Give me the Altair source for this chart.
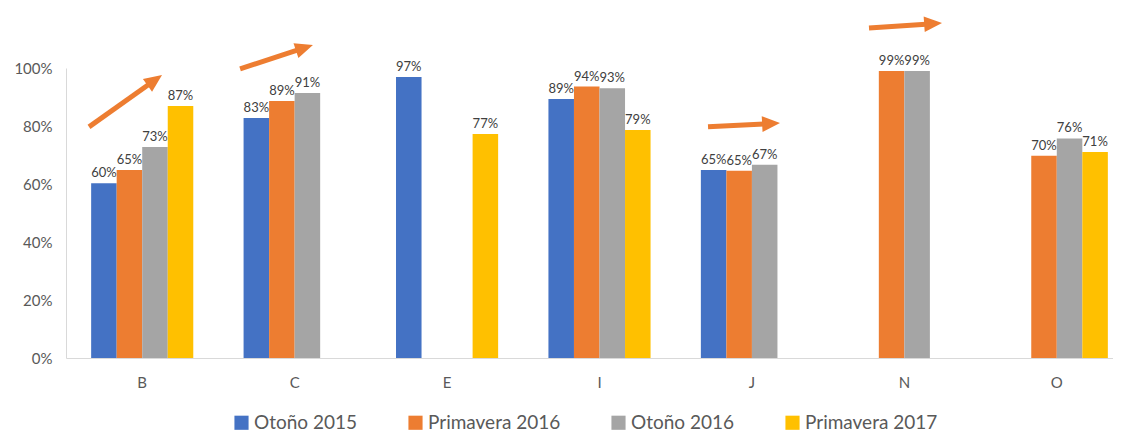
import math
import altair as alt
import pandas as pd

# ---------------- data ----------------
categories = ["B", "C", "E", "I", "J", "N", "O"]
series = ["Otoño 2015", "Primavera 2016", "Otoño 2016", "Primavera 2017"]
otono_2015 = [0.603, 0.828, 0.969, 0.893, 0.648, None, None]
primavera_2016 = [0.648, 0.886, None, 0.936, 0.646, 0.99, 0.697]
otono_2016 = [0.728, 0.914, None, 0.93, 0.666, 0.99, 0.757]
primavera_2017 = [0.869, None, 0.772, 0.786, None, None, 0.71]
colors = ["#4472C4", "#ED7D31", "#A5A5A5", "#FFC000"]
y_ticks = [0, 0.2, 0.4, 0.6, 0.8, 1.0]

# trend arrows (x in category units, y in value units)
arrow_x0 = [0.151, 1.142, 4.212, 5.268]
arrow_y0 = [0.797, 0.997, 0.797, 1.138]
arrow_x1 = [0.630, 1.620, 4.684, 5.747]
arrow_y1 = [0.976, 1.079, 0.810, 1.155]

# ---------------- layout ----------------
PLOT_W = 1047
RANGE_W = 1067
PLOT_H = 290
FONT = "Lato"
HEAD_R = 10.5
HEAD_LEN = 1.7 * HEAD_R

rows = []
for s, vals in zip(series, [otono_2015, primavera_2016, otono_2016, primavera_2017]):
    for c, v in zip(categories, vals):
        if v is not None:
            rows.append({"category": c, "series": s, "value": v})
df = pd.DataFrame(rows)

ux = RANGE_W / len(categories)
uy = PLOT_H
arows = []
for x0, y0, x1, y1 in zip(arrow_x0, arrow_y0, arrow_x1, arrow_y1):
    dxp = (x1 - x0) * ux
    dyp = (y1 - y0) * uy
    L = math.hypot(dxp, dyp)
    elev = math.degrees(math.atan2(dyp, dxp))
    frac = 1 - 0.7 * HEAD_LEN / L
    arows.append({
        "x0": x0, "y0": y0, "x1": x1, "y1": y1,
        "xs": x0 + frac * (x1 - x0), "ys": y0 + frac * (y1 - y0),
        "angle": 90 - elev,
    })
adf = pd.DataFrame(arows)

base = alt.Chart(df).encode(
    x=alt.X("category:N", sort=categories,
            scale=alt.Scale(paddingInner=0.33, paddingOuter=0.165, range=[0, RANGE_W]),
            axis=alt.Axis(title=None, labelAngle=0, labelFontSize=15, labelColor="#595959",
                          labelFont=FONT, labelPadding=17, ticks=False,
                          domainColor="#D9D9D9", orient="bottom")),
    xOffset=alt.XOffset("series:N", sort=series, scale=alt.Scale(domain=series)),
    y=alt.Y("value:Q", scale=alt.Scale(domain=[0, 1], nice=False),
            axis=alt.Axis(title=None, format=".0%", values=y_ticks, labelFontSize=15,
                          labelColor="#595959", labelFont=FONT, labelPadding=14,
                          ticks=False, grid=False, domainColor="#D9D9D9", orient="left")),
)

bars = base.mark_bar().encode(
    color=alt.Color("series:N", sort=series,
                    scale=alt.Scale(domain=series, range=colors),
                    legend=alt.Legend(title=None, orient="none", legendX=166, legendY=345,
                                      direction="horizontal", columns=4,
                                      symbolType="square", symbolSize=200,
                                      symbolStrokeWidth=0, labelFontSize=19,
                                      labelFont=FONT, labelColor="#595959",
                                      columnPadding=48, labelOffset=3))
)

labels = base.mark_text(baseline="alphabetic", dy=-6, fontSize=13, color="#404040",
                        font=FONT).encode(text=alt.Text("value:Q", format=".0%"))

ax_scale = alt.Scale(domain=[0, len(categories)], range=[0, RANGE_W], nice=False, zero=False)
ay_scale = alt.Scale(domain=[0, 1], nice=False, zero=False)
shaft = alt.Chart(adf).mark_rule(color="#ED7D31", strokeWidth=5, strokeCap="butt").encode(
    x=alt.X("x0:Q", scale=ax_scale, axis=None), x2="xs:Q",
    y=alt.Y("y0:Q", scale=ay_scale, axis=None), y2="ys:Q",
)
head = alt.Chart(adf).mark_point(
    shape="M0,0L0.75,1.7L-0.75,1.7Z", filled=True, color="#ED7D31", opacity=1,
    size=(2 * HEAD_R) ** 2, strokeWidth=0,
).encode(
    x=alt.X("x1:Q", scale=ax_scale, axis=None),
    y=alt.Y("y1:Q", scale=ay_scale, axis=None),
    angle=alt.Angle("angle:Q", scale=None),
)

data_layer = alt.layer(bars, labels)
arrow_layer = alt.layer(shaft, head)

chart = alt.layer(data_layer, arrow_layer).resolve_scale(
    x="independent", y="independent"
).resolve_axis(x="independent", y="independent").properties(
    width=PLOT_W, height=PLOT_H,
    padding={"left": 58, "top": 60, "right": 0, "bottom": 78},
    autosize=alt.AutoSizeParams(type="none"),
).configure_view(stroke=None)

chart.save("out.html", embed_options={"renderer": "svg", "actions": False})
